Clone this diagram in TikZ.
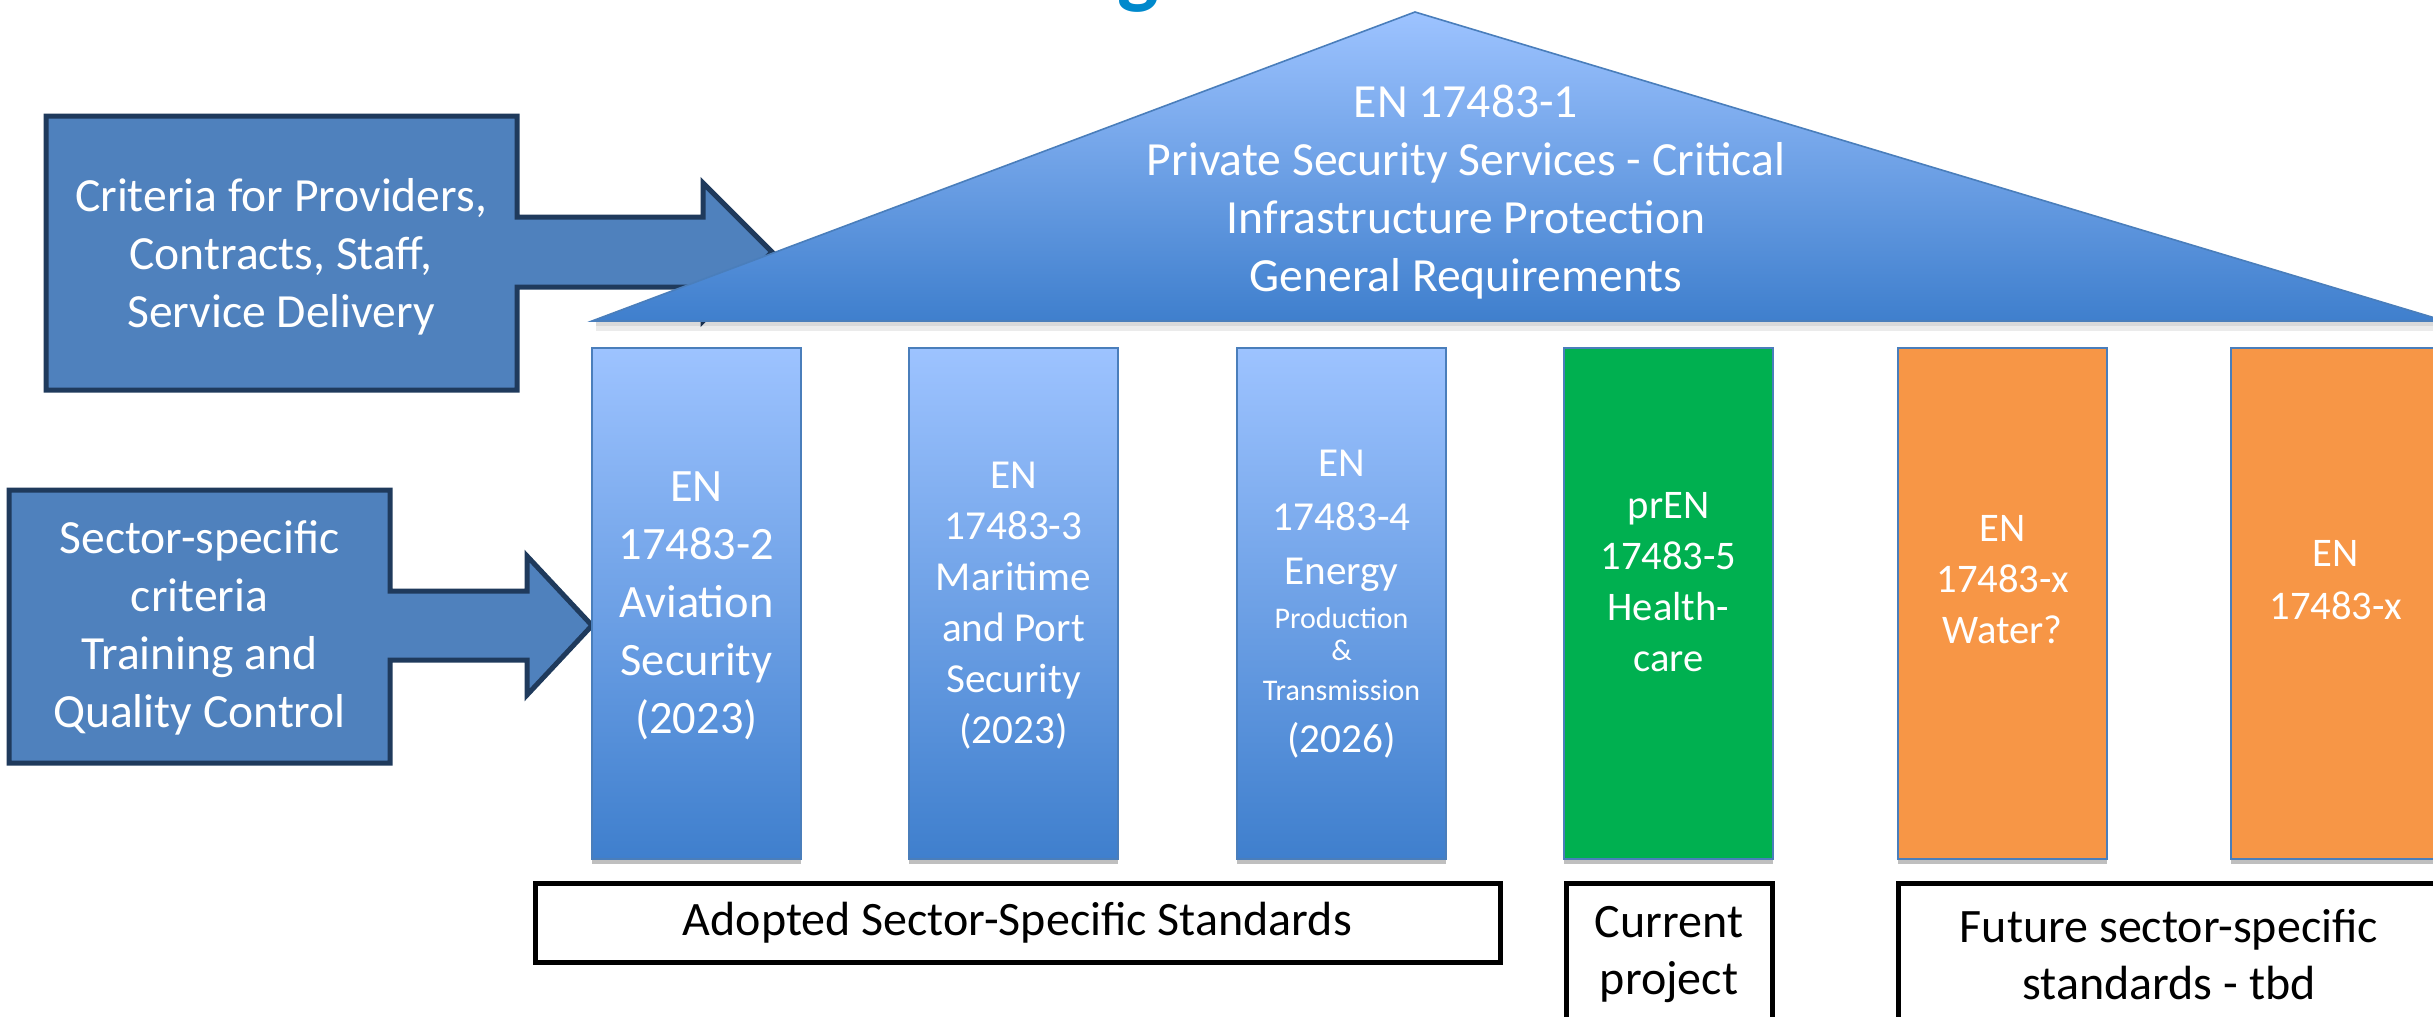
\documentclass[tikz,border=0pt]{standalone}
\usepackage{fontspec}
\setmainfont{Carlito}
\usetikzlibrary{shadows}
\definecolor{boxblue}{HTML}{4F81BD}
\definecolor{boxedge}{HTML}{1F3A5C}
\definecolor{gtop}{HTML}{9DC3FF}
\definecolor{gbot}{HTML}{3F7FCD}
\definecolor{coledge}{HTML}{4A7EBB}
\definecolor{pgreen}{HTML}{00B050}
\definecolor{porange}{HTML}{F79646}
\definecolor{titleblue}{HTML}{0089CC}
\newcommand{\smallfontcmd}{\fontsize{15pt}{17pt}\selectfont}
\begin{document}
\begin{tikzpicture}[x=0.5pt,y=-0.5pt,
  callout/.style={fill=boxblue, draw=boxedge, line width=2.5pt, line join=miter},
  bigfont/.style={font=\fontsize{23.8pt}{29pt}\selectfont},
  calltext/.style={text=white, align=center, bigfont},
  colbase/.style={minimum width=104.5pt, minimum height=255.5pt, inner sep=0pt, draw=coledge, line width=0.8pt,
    drop shadow={shadow xshift=0pt, shadow yshift=-2.5pt, opacity=0.25, fill=black}},
  colblue/.style={colbase, top color=gtop, bottom color=gbot},
  colgreen/.style={colbase, fill=pgreen},
  colorange/.style={colbase, fill=porange},
  coltext/.style={text=white, align=center},
  labelbox/.style={draw=black, line width=2.5pt, inner sep=0pt},
  labeltext/.style={align=center, font=\fontsize{24pt}{28.5pt}\selectfont}
]
\useasboundingbox (0,0) rectangle (2433,1017);
\clip (0,0) rectangle (2433,1017);
% title fragment
\node[anchor=base, text=titleblue, inner sep=0pt, font=\fontsize{44pt}{44pt}\selectfont\bfseries] (title) at (1138,-3) {g};
% callouts
\draw[callout] (46,116) -- (517,116) -- (517,217) -- (703,217) -- (703,183) -- (772,252) -- (703,321) -- (703,287) -- (517,287) -- (517,390) -- (46,390) -- cycle;
\node[calltext] (ct1) at (281,257) {Criteria for Providers,\\Contracts, Staff,\\Service Delivery};
\draw[callout] (9,490) -- (390,490) -- (390,591) -- (527,591) -- (527,556) -- (592,625.5) -- (527,695) -- (527,660) -- (390,660) -- (390,763) -- (9,763) -- cycle;
\node[calltext] (ct2) at (199.5,628) {Sector-specific\\criteria\\Training and\\Quality Control};
% roof
\fill[black, opacity=0.08] (596,321) rectangle (2440,331);
\fill[black, opacity=0.08] (596,321) rectangle (2440,326);
\shade[draw=coledge, line width=0.8pt, top color=gtop, bottom color=gbot] (592,321) -- (1415,12) -- (2445,321) -- cycle;
\node[coltext, bigfont] (roof) at (1466,192) {EN 17483-1\\Private Security Services - Critical\\Infrastructure Protection\\General Requirements};
% columns
\node[colblue] (c1) at (696.5,603.5) {};
\node[colblue] (c2) at (1013.5,603.5) {};
\node[colblue] (c3) at (1341.5,603.5) {};
\node[colgreen] (c4) at (1668.5,603.5) {};
\node[colorange] (c5) at (2002.5,603.5) {};
\node[colorange] (c6) at (2335.5,603.5) {};
\node[coltext, font=\fontsize{23.2pt}{29pt}\selectfont] (t1) at (696.5,606) {EN\\17483-2\\Aviation\\Security\\(2023)};
\node[coltext, font=\fontsize{20.6pt}{25.5pt}\selectfont] (t2) at (1013.5,605.5) {EN\\17483-3\\Maritime\\and Port\\Security\\(2023)};
\node[coltext, font=\fontsize{20.6pt}{27pt}\selectfont] (t3) at (1341.5,604) {EN\\17483-4\\Energy\\[-5pt]{\smallfontcmd Production}\\[-11pt]{\smallfontcmd \&}\\[-7pt]{\smallfontcmd Transmission}\\[-1pt](2026)};
\node[coltext, font=\fontsize{20.3pt}{25.5pt}\selectfont] (t4) at (1668.5,582) {prEN\\17483-5\\Health-\\care};
\node[coltext, font=\fontsize{20.3pt}{25.5pt}\selectfont] (t5) at (2002.5,580) {EN\\17483-x\\Water?};
\node[coltext, font=\fontsize{20.3pt}{26.5pt}\selectfont] (t6) at (2335.5,580) {EN\\17483-x};
% labels
\node[labelbox, labeltext, minimum width=482.5pt, minimum height=39.5pt] (la) at (1017.5,922.5) {Adopted Sector-Specific Standards};
\node[labelbox, minimum width=103pt, minimum height=78.5pt] (lb) at (1669,961.5) {};
\node[labeltext] (lbt) at (1669,955) {Current\\project};
\node[labelbox, minimum width=273.5pt, minimum height=78.5pt] (lc) at (2171.5,961.5) {};
\node[labeltext] (lct) at (2169,955) {Future sector-specific\\standards - tbd};
\end{tikzpicture}
\end{document}
